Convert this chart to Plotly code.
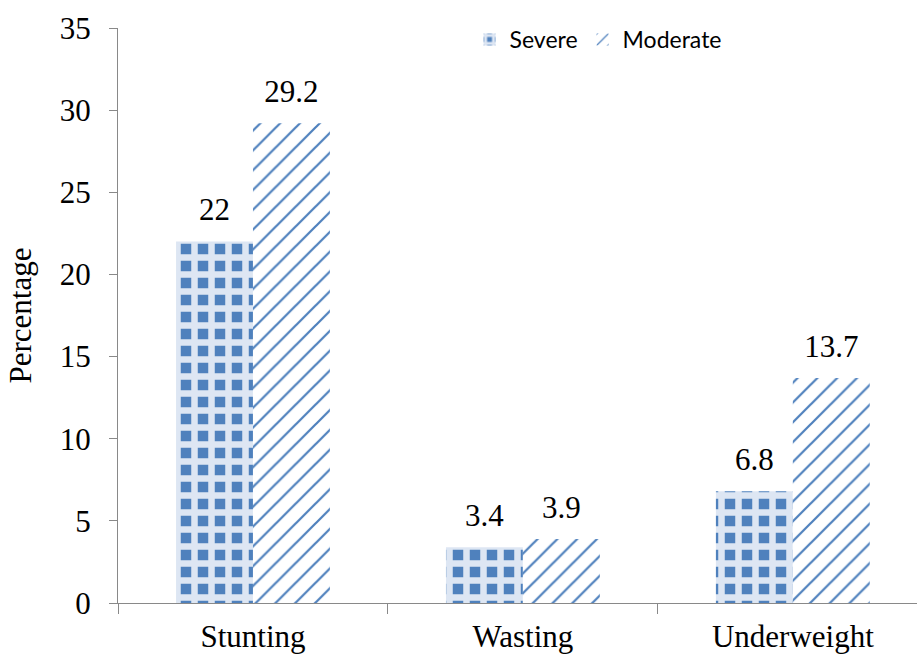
import plotly.graph_objects as go

categories = ["Stunting", "Wasting", "Underweight"]
severe = [22, 3.4, 6.8]
moderate = [29.2, 3.9, 13.7]
y_ticks = [0, 5, 10, 15, 20, 25, 30, 35]

blue = "#4F81BD"
serif = "Liberation Serif"

fig = go.Figure()
fig.add_trace(go.Bar(
    name="Severe", x=categories, y=severe, offsetgroup="s",
    marker=dict(line=dict(width=0),
                pattern=dict(shape="+", fgcolor="#DDE6F3", bgcolor=blue,
                             size=17, solidity=0.62, fillmode="replace")),
))
fig.add_trace(go.Bar(
    name="Moderate", x=categories, y=moderate, offsetgroup="m",
    marker=dict(line=dict(width=0),
                pattern=dict(shape="/", fgcolor=blue, bgcolor="white",
                             size=14, solidity=0.16, fillmode="replace")),
))

# value labels, grouped like the bars so each sits over its own bar
for vals, grp in [(severe, "s"), (moderate, "m")]:
    fig.add_trace(go.Scatter(
        x=categories, y=vals, offsetgroup=grp, mode="markers+text",
        text=[f"{v:g}" for v in vals], textposition="top center",
        textfont=dict(family=serif, size=31, color="black"),
        marker=dict(size=20, opacity=0), showlegend=False, hoverinfo="skip",
        cliponaxis=False,
    ))

fig.update_layout(
    width=917, height=657,
    margin=dict(l=118, r=0, t=28, b=54),
    paper_bgcolor="white", plot_bgcolor="white",
    barmode="group", bargap=0.43, bargroupgap=0,
    scattermode="group", scattergap=0.43,
    font=dict(family=serif, size=31, color="black"),
    legend=dict(orientation="h", x=0.44, y=0.98, xanchor="left", yanchor="middle",
                font=dict(family="Lato", size=23, color="black"),
                bgcolor="rgba(0,0,0,0)", itemwidth=30, traceorder="normal"),
    xaxis=dict(range=[-0.5, 2.46], showline=True, linecolor="#898989", linewidth=1,
               ticks="outside", ticklen=10, tickcolor="#898989", tickson="boundaries",
               ticklabelstandoff=6,
               tickfont=dict(family=serif, size=31), showgrid=False),
    yaxis=dict(range=[0, 35], tickvals=y_ticks, showline=True, linecolor="#898989",
               linewidth=1, ticks="outside", ticklen=8, tickcolor="#898989",
               ticklabelstandoff=12,
               tickfont=dict(family=serif, size=31), showgrid=False, zeroline=False,
               title=dict(text="Percentage", font=dict(family=serif, size=31), standoff=18)),
)

fig.write_html("out.html")
